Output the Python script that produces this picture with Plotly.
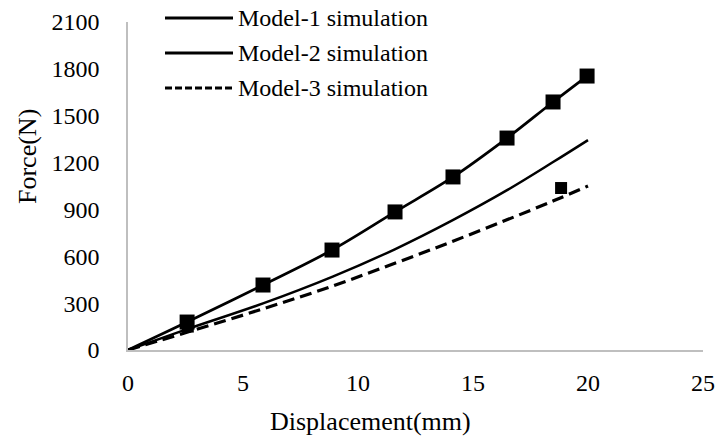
import plotly.graph_objects as go

# Data
model1_x = [0, 2.57, 5.87, 8.87, 11.61, 14.13, 16.48, 18.48, 19.96]
model1_y = [0, 179, 416, 640, 884, 1108, 1357, 1588, 1754]

model2_x = [0, 2.6, 5.9, 8.9, 11.6, 14.1, 16.5, 18.5, 20]
model2_y = [0, 135, 300, 470, 645, 830, 1025, 1205, 1344]

model3_x = [0, 2.6, 5.9, 8.9, 11.6, 14.1, 16.5, 18.5, 20]
model3_y = [0, 115, 265, 410, 555, 695, 835, 955, 1050]

extra_x = [2.6, 18.83]
extra_y = [150, 1037]

x_ticks = [0, 5, 10, 15, 20, 25]
y_ticks = [0, 300, 600, 900, 1200, 1500, 1800, 2100]

legend_names = ["Model-1 simulation", "Model-2 simulation", "Model-3 simulation"]

FONT = "Liberation Serif, Times New Roman, serif"

fig = go.Figure()
fig.add_trace(go.Scatter(x=model2_x, y=model2_y, mode="lines", name=legend_names[1],
                         line=dict(color="black", width=2.5, shape="spline"), showlegend=False))
fig.add_trace(go.Scatter(x=model3_x, y=model3_y, mode="lines", name=legend_names[2],
                         line=dict(color="black", width=3.2, dash="12px,6px", shape="spline"),
                         showlegend=False))
fig.add_trace(go.Scatter(x=model1_x, y=model1_y, mode="lines", name=legend_names[0],
                         line=dict(color="black", width=2.75, shape="spline"), showlegend=False))
fig.add_trace(go.Scatter(x=model1_x[1:], y=model1_y[1:], mode="markers", name=legend_names[0],
                         marker=dict(symbol="square", size=15, color="black"), showlegend=False))
fig.add_trace(go.Scatter(x=extra_x, y=extra_y, mode="markers", name="",
                         marker=dict(symbol="square", size=12, color="black"), showlegend=False))

W, H = 715, 436
L, R, T, B = 128, 12, 22, 86
pw, ph = W - L - R, H - T - B

def px(xp):
    return (xp - L) / pw

def py(yp):
    return (H - B - yp) / ph

shapes = []
annotations = []
rows = [18, 53, 88]
dashes = ["solid", "solid", "7px,3px"]
for name, yy, d in zip(legend_names, rows, dashes):
    shapes.append(dict(type="line", xref="paper", yref="paper",
                       x0=px(165), x1=px(233), y0=py(yy), y1=py(yy),
                       line=dict(color="black", width=3, dash=d)))
    annotations.append(dict(text=name, xref="paper", yref="paper", x=px(236), y=py(yy),
                            xanchor="left", yanchor="middle", showarrow=False,
                            font=dict(family=FONT, size=24, color="black")))

annotations.append(dict(text="Force(N)", xref="paper", yref="paper", x=px(27), y=py(157),
                        xanchor="center", yanchor="middle", textangle=-90, showarrow=False,
                        font=dict(family=FONT, size=26, color="black")))
annotations.append(dict(text="Displacement(mm)", xref="paper", yref="paper", x=px(370), y=py(421),
                        xanchor="center", yanchor="middle", showarrow=False,
                        font=dict(family=FONT, size=26, color="black")))

fig.update_layout(
    width=W, height=H,
    margin=dict(l=L, r=R, t=T, b=B, autoexpand=False),
    paper_bgcolor="white", plot_bgcolor="white",
    showlegend=False,
    shapes=shapes, annotations=annotations,
    font=dict(family=FONT, color="black"),
)
fig.update_xaxes(range=[0, 25], tickvals=x_ticks, ticktext=[str(v) for v in x_ticks],
                 showgrid=False, zeroline=False, showline=True, linecolor="#BFBFBF", linewidth=1.5,
                 ticks="", automargin=False,
                 tickfont=dict(family=FONT, size=24, color="black"), ticklabelstandoff=10)
fig.update_yaxes(range=[0, 2100], tickvals=y_ticks, ticktext=[str(v) for v in y_ticks],
                 showgrid=False, zeroline=False, showline=True, linecolor="#BFBFBF", linewidth=1.5,
                 ticks="", automargin=False,
                 tickfont=dict(family=FONT, size=24, color="black"), ticklabelstandoff=22)

fig.write_html("out.html")
